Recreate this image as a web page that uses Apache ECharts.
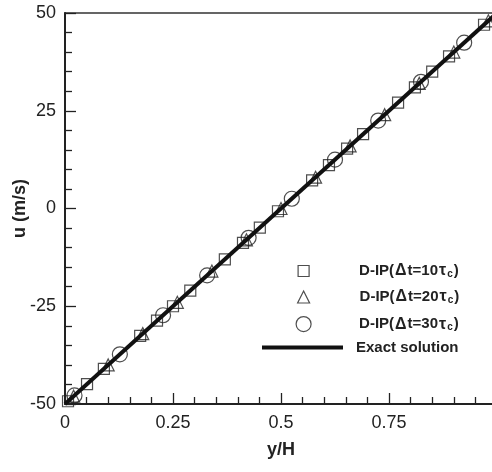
<!DOCTYPE html>
<html><head><meta charset="utf-8">
<script src="https://cdn.jsdelivr.net/npm/echarts@6/dist/echarts.min.js"></script>
<style>html,body{margin:0;padding:0;background:#fff}#c{width:492px;height:472px}</style>
</head><body><div id="c"></div>
<script>
// Data
const xTickLabels = ['0', '0.25', '0.5', '0.75', '1'];
const yTickLabels = ['-50', '-25', '0', '25', '50'];
const squareX = [0.007, 0.051, 0.09, 0.174, 0.213, 0.25, 0.29, 0.37, 0.412, 0.451, 0.493, 0.572, 0.611, 0.653, 0.69, 0.771, 0.81, 0.85, 0.889, 0.97];
const squareU = [-49.3, -44.9, -41.0, -32.6, -28.7, -25.0, -21.0, -13.0, -8.8, -4.9, -0.7, 7.2, 11.1, 15.3, 19.0, 27.1, 31.0, 35.0, 38.9, 47.0];
const triangleX = [0.02, 0.10, 0.18, 0.26, 0.34, 0.42, 0.50, 0.58, 0.66, 0.74, 0.82, 0.90, 0.98];
const triangleU = [-48, -40, -32, -24, -16, -8, 0, 8, 16, 24, 32, 40, 48];
const circleX = [0.022, 0.127, 0.227, 0.329, 0.425, 0.525, 0.625, 0.725, 0.824, 0.924];
const circleU = [-47.8, -37.3, -27.3, -17.1, -7.5, 2.5, 12.5, 22.5, 32.4, 42.4];
const exactX = [0, 1];
const exactU = [-50, 50];
const names = ['D-IP(Δt=10τc)', 'D-IP(Δt=20τc)', 'D-IP(Δt=30τc)', 'Exact solution'];

const zip = (a, b) => a.map((v, i) => [v, b[i]]);
const FONT = 'Liberation Sans';
const INK = '#222';

const richLegend = {
  a: { fontFamily: FONT, fontSize: 15, fontWeight: 'bold', color: INK, lineHeight: 18, verticalAlign: 'middle' },
  g: { fontFamily: FONT, fontSize: 16, fontWeight: 'bold', color: INK, lineHeight: 18, verticalAlign: 'middle', padding: [0, 1, 0, 1] },
  s: { fontFamily: FONT, fontSize: 10, fontWeight: 'bold', color: INK, lineHeight: 18, verticalAlign: 'bottom', padding: [0, 1, 1, 0] }
};
function fmt(n) {
  if (n === names[3]) return '{a|' + n + '}';
  const num = n.slice(n.indexOf('=') + 1, n.indexOf('τ'));
  return '{a|D-IP(}{g|Δ}{a|t=' + num + '}{g|τ}{s|c}{a|)}';
}
const markerStyle = { color: 'transparent', borderColor: INK, borderWidth: 1.2 };
function mkLegend(name, left, top, w, h, padLeft, extra) {
  return Object.assign({
    data: [name], left: left, top: top, orient: 'vertical', padding: 0,
    itemWidth: w, itemHeight: h, itemGap: 0, selectedMode: false,
    formatter: fmt,
    textStyle: { rich: richLegend, fontFamily: FONT, fontSize: 15, fontWeight: 'bold', color: INK, padding: [0, 0, 0, padLeft] },
    itemStyle: markerStyle
  }, extra || {});
}

const chart = echarts.init(document.getElementById('c'), null, { renderer: 'canvas' });
chart.setOption({
  animation: false,
  backgroundColor: '#fff',
  grid: { left: 65, top: 13, width: 432, height: 391, containLabel: false, outerBoundsMode: 'none',
    show: true, borderColor: '#333', borderWidth: 1.3, backgroundColor: 'transparent' },
  xAxis: {
    type: 'value', min: 0, max: 1, interval: 0.25,
    name: 'y/H', nameLocation: 'middle', nameGap: 37, nameMoveOverlap: false,
    nameTextStyle: { fontFamily: FONT, fontSize: 18, fontWeight: 'bold', color: INK },
    axisLine: { show: true, onZero: false, lineStyle: { color: INK, width: 2 } },
    axisTick: { show: true, inside: true, length: 11, lineStyle: { color: INK, width: 1.3 } },
    minorTick: { show: true, splitNumber: 5, length: 7, lineStyle: { color: INK, width: 1.3 } },
    splitLine: { show: false },
    axisLabel: { margin: 10, fontFamily: FONT, fontSize: 18, color: INK, showMaxLabel: true, hideOverlap: false,
      formatter: (v) => xTickLabels[Math.round(v / 0.25)] }
  },
  yAxis: {
    type: 'value', min: -50, max: 50, interval: 25,
    name: 'u (m/s)', nameLocation: 'middle', nameGap: 36, nameRotate: 90, nameMoveOverlap: false,
    nameTextStyle: { fontFamily: FONT, fontSize: 18, fontWeight: 'bold', color: INK },
    axisLine: { show: true, onZero: false, lineStyle: { color: INK, width: 2 } },
    axisTick: { show: true, inside: true, length: 11, lineStyle: { color: INK, width: 1.3 } },
    minorTick: { show: true, splitNumber: 5, length: 7, lineStyle: { color: INK, width: 1.3 } },
    splitLine: { show: false },
    axisLabel: { margin: 9, fontFamily: FONT, fontSize: 18, color: INK,
      formatter: (v) => yTickLabels[Math.round((v + 50) / 25)] }
  },
  legend: [
    mkLegend(names[0], 297.5, 263, 11, 11, 45),
    mkLegend(names[1], 297, 289, 12, 12, 45),
    mkLegend(names[2], 295.5, 316, 15, 15, 43),
    mkLegend(names[3], 262, 340, 81, 4, 8, { icon: 'rect', itemStyle: { color: '#111', borderWidth: 0 } })
  ],
  series: [
    { name: names[0], type: 'scatter', symbol: 'rect', symbolSize: 11, data: zip(squareX, squareU), itemStyle: markerStyle, silent: true },
    { name: names[1], type: 'scatter', symbol: 'triangle', symbolSize: 12, data: zip(triangleX, triangleU), itemStyle: markerStyle, silent: true },
    { name: names[2], type: 'scatter', symbol: 'circle', symbolSize: 15, data: zip(circleX, circleU), itemStyle: markerStyle, silent: true },
    { name: names[3], type: 'line', data: zip(exactX, exactU), showSymbol: false, symbol: 'none',
      itemStyle: { color: '#111' }, lineStyle: { color: '#111', width: 4 }, silent: true }
  ]
});
</script></body></html>
